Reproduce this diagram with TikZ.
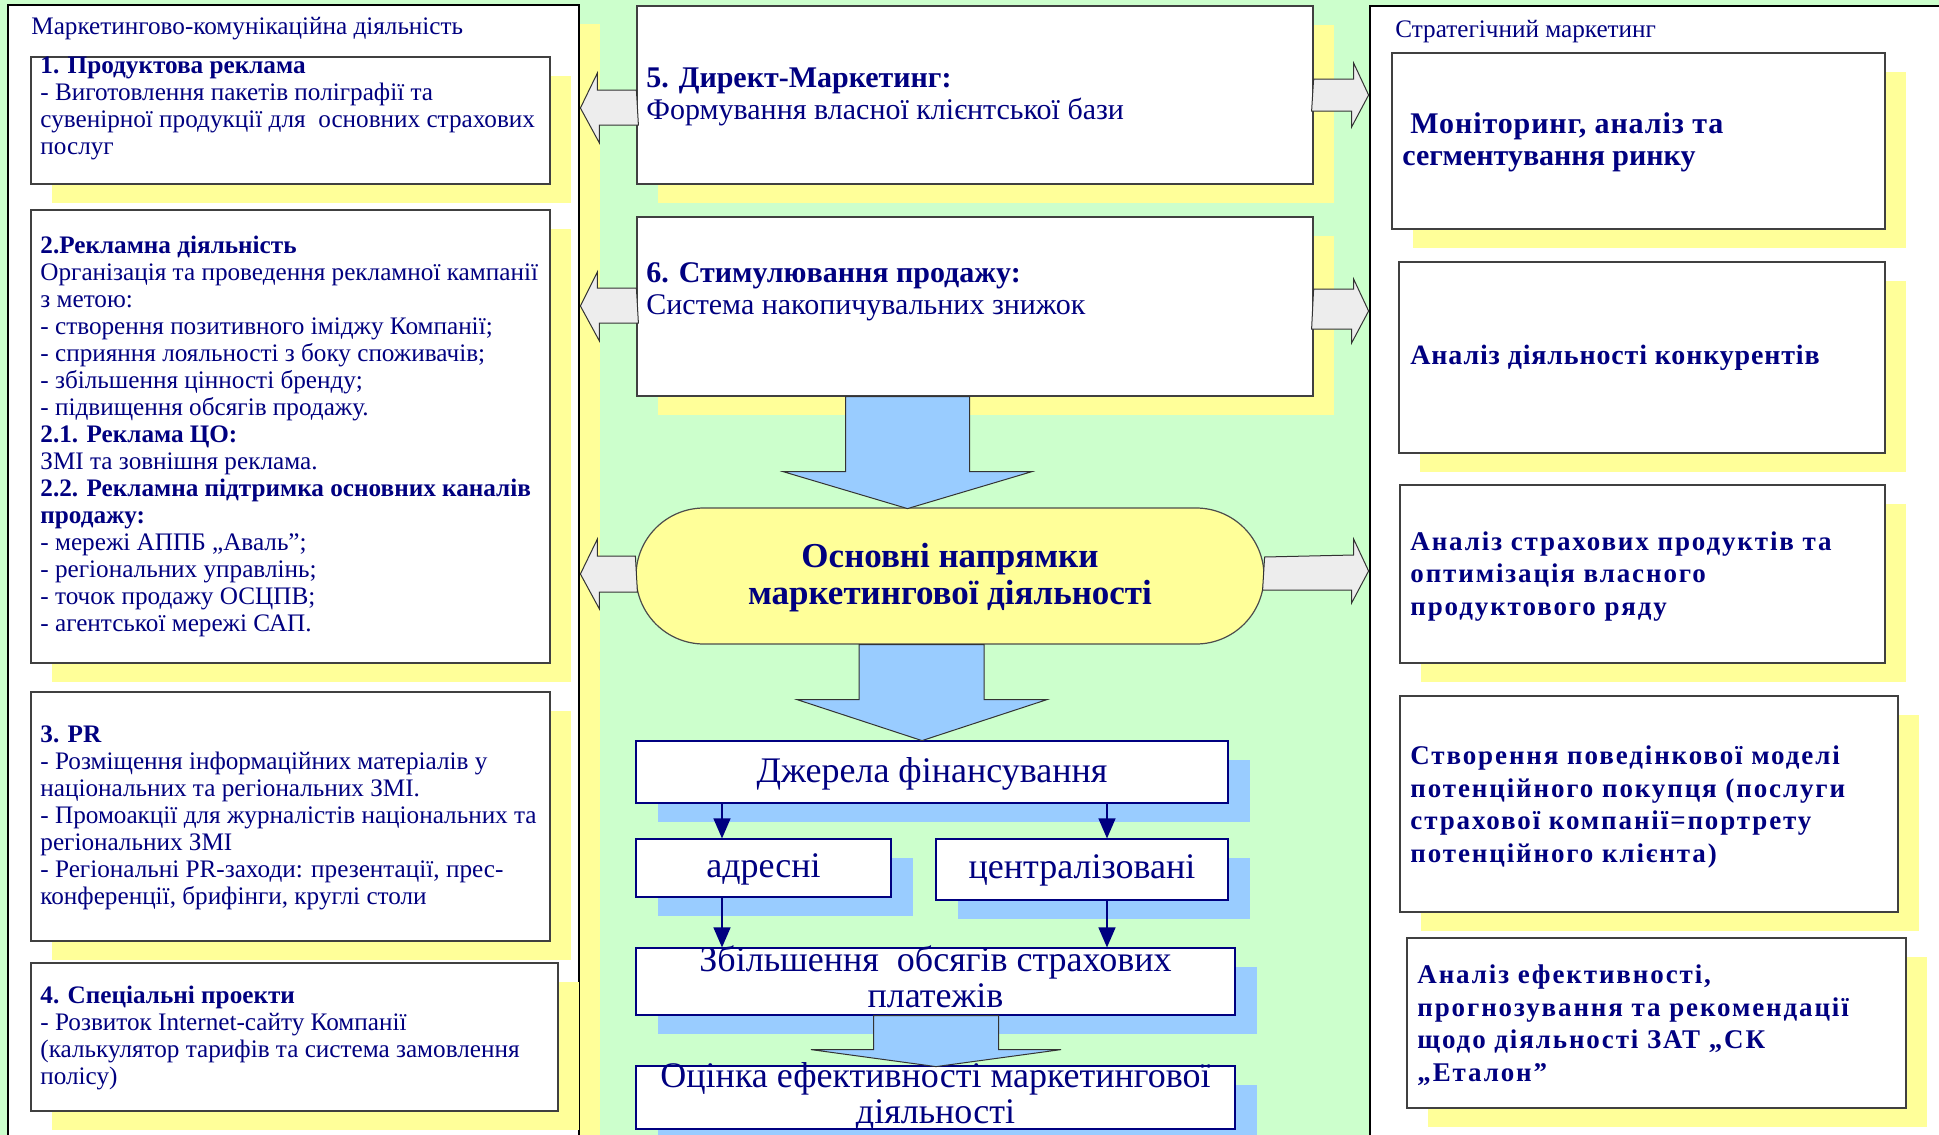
\documentclass[tikz,border=0pt]{standalone}
\usepackage{fontspec}
\setmainfont{Liberation Serif}
\newfontfamily\spacedfont[LetterSpace=7]{Liberation Serif}
\newfontfamily\lightfont[LetterSpace=3]{Liberation Serif}
\usetikzlibrary{calc,fit,shadows,arrows.meta}

\definecolor{bggreen}{HTML}{CCFFCC}
\definecolor{shyellow}{HTML}{FFFF99}
\definecolor{shblue}{HTML}{99CCFF}
\definecolor{navy}{HTML}{000080}
\definecolor{arrgrey}{HTML}{EDEDED}

\tikzset{
  panel/.style={draw=black, line width=1.4pt, fill=white, inner sep=0pt},
  box/.style={draw=black!75, line width=0.6pt, fill=white, inner sep=0pt},
  nbox/.style={draw=navy, line width=0.6pt, fill=white, inner sep=0pt},
  corebox/.style={draw=black!70, line width=0.6pt, fill=shyellow, inner sep=0pt,
    rounded corners=34pt},
  yshadow/.style={drop shadow={shadow xshift=10.5pt, shadow yshift=-9.5pt,
    fill=shyellow, opacity=1}},
  bshadow/.style={drop shadow={shadow xshift=11pt, shadow yshift=-9.5pt,
    fill=shblue, opacity=1}},
  paneltitle/.style={text=navy, inner sep=0pt, font=\fontsize{12.6}{13.5}\selectfont},
  % multi-line nodes are placed by the baseline of their last line
  ltext/.style={text=navy, align=left, inner sep=0pt, anchor=base west,
    font=\fontsize{12.6}{13.5}\selectfont},
  mtext/.style={text=navy, align=left, inner sep=0pt, anchor=base west,
    font=\fontsize{15}{16}\selectfont},
  ctext/.style={text=navy, align=center, inner sep=0pt, anchor=base,
    font=\fontsize{18}{18}\selectfont},
  rtext/.style={text=navy, align=left, inner sep=0pt, anchor=base west,
    font=\spacedfont\bfseries\fontsize{13.5}{16.25}\selectfont},
  greyarr/.style={draw=black!80, line width=0.5pt, fill=arrgrey},
  bluearr/.style={draw=black!80, line width=0.5pt, fill=shblue},
  smallarr/.style={draw=navy, line width=0.7pt, -{Triangle[length=10pt,width=8.5pt]}}
}

\begin{document}
\begin{tikzpicture}[x=0.5pt,y=-0.5pt]
    % Background
    \fill[bggreen] (0,0) rectangle (1939,1135);
    \useasboundingbox (0,0) rectangle (1939,1135);

    % Panels
    \node[panel, yshadow, fit={(8,5) (579,1160)}] (lp) {};
    \node[panel, fit={(1370,6) (1960,1160)}] (rp) {};
    \node[paneltitle, anchor=base west] (lptitle) at (31,34) {Маркетингово-комунікаційна діяльність};
    \node[paneltitle, anchor=base west] (rptitle) at (1395,37) {Стратегічний маркетинг};

    % Left column
    \node[box, yshadow, fit={(31,57) (550,184)}] (b1) {};
    \node[box, yshadow, fit={(31,210) (550,663)}] (b2) {};
    \node[box, yshadow, fit={(31,692) (550,941)}] (b3) {};
    \node[box, yshadow, fit={(31,963) (558,1111)}] (b4) {};

    \node[ltext] (t1) at (40,154) {\textbf{1. Продуктова реклама}\\
      - Виготовлення пакетів поліграфії та\\
      сувенірної продукції для~ основних страхових\\
      послуг};
    \node[ltext] (t2) at (40,631) {\textbf{2.Рекламна діяльність}\\
      Організація та проведення рекламної кампанії\\
      з метою:\\
      - створення позитивного іміджу Компанії;\\
      - сприяння лояльності з боку споживачів;\\
      - збільшення цінності бренду;\\
      - підвищення обсягів продажу.\\
      \textbf{2.1. Реклама ЦО:}\\
      ЗМІ та зовнішня реклама.\\
      \textbf{2.2. Рекламна підтримка основних каналів}\\
      \textbf{продажу:}\\
      - мережі АППБ „Аваль”;\\
      - регіональних управлінь;\\
      - точок продажу ОСЦПВ;\\
      - агентської мережі САП.};
    \node[ltext] (t3) at (40,904) {\textbf{3. PR}\\
      - Розміщення інформаційних матеріалів у\\
      національних та регіональних ЗМІ.\\
      - Промоакції для журналістів національних та\\
      регіональних ЗМІ\\
      - Регіональні PR-заходи: презентації, прес-\\
      конференції, брифінги, круглі столи};
    \node[ltext] (t4) at (40,1084) {\textbf{4. Спеціальні проекти}\\
      - Розвиток Internet-сайту Компанії\\
      (калькулятор тарифів та система замовлення\\
      полісу)};

    % Centre column
    \node[box, yshadow, fit={(637,6) (1313,184)}] (b5) {};
    \node[box, yshadow, fit={(637,217) (1313,396)}] (b6) {};
    \node[mtext] (t5) at (646,119) {\textbf{5. Директ-Маркетинг:}\\Формування власної клієнтської бази};
    \node[mtext] (t6) at (646,314) {\textbf{6. Стимулювання продажу:}\\Система накопичувальних знижок};

    \node[corebox, fit={(636,508) (1264,644)}] (core) {};
    \node[ctext, font=\bfseries\fontsize{17.5}{18.5}\selectfont] (coret) at (950,604)
      {Основні напрямки\\маркетингової діяльності};

    \node[nbox, bshadow, fit={(636,741) (1228,803)}] (dzh) {};
    \node[nbox, bshadow, fit={(636,839) (891,897)}] (adr) {};
    \node[nbox, bshadow, fit={(936,839) (1228,900)}] (centr) {};
    \node[nbox, bshadow, fit={(636,948) (1235,1015)}] (zb) {};
    \node[nbox, bshadow, fit={(636,1066) (1235,1129)}] (oc) {};
    \node[ctext] (dzht) at (932,782) {Джерела фінансування};
    \node[ctext] (adrt) at (763.5,877) {адресні};
    \node[ctext] (centrt) at (1082,878) {централізовані};
    \node[ctext] (zbt) at (935.5,1007) {Збільшення~ обсягів страхових\\платежів};
    \node[ctext] (oct) at (935.5,1123) {Оцінка ефективності маркетингової\\діяльності};

    % Right column
    \node[box, yshadow, fit={(1392,53) (1885,229)}] (ra) {};
    \node[box, yshadow, fit={(1399,262) (1885,453)}] (rb) {};
    \node[box, yshadow, fit={(1400,485) (1885,663)}] (rc) {};
    \node[box, yshadow, fit={(1400,696) (1898,912)}] (rd) {};
    \node[box, yshadow, fit={(1407,938) (1906,1108)}] (re) {};

    \node[rtext, font=\bfseries\fontsize{15}{16}\selectfont] (rat) at (1402,165)
      {\hspace*{4pt}{\addfontfeature{LetterSpace=3}Моніторинг, аналіз та}\\сегментування ринку};
    \node[rtext, font=\lightfont\bfseries\fontsize{14}{16}\selectfont] (rbt) at (1410,364)
      {Аналіз діяльності конкурентів};
    \node[rtext] (rct) at (1410,615) {Аналіз страхових продуктів та\\
      оптимізація власного\\продуктового ряду};
    \node[rtext] (rdt) at (1410,862) {Створення поведінкової моделі\\
      потенційного покупця (послуги\\страхової компанії=портрету\\
      потенційного клієнта)};
    \node[rtext] (ret) at (1417,1081) {Аналіз ефективності,\\
      прогнозування та рекомендації\\щодо діяльності ЗАТ „СК\\„Еталон”};

    % Grey arrows to the left panel
    \draw[greyarr] (b5.west |- 0,90) -- ++(-39,0) -- ++(0,-17) -- (lp.east |- 0,108)
      -- ++(19,35) -- ++(0,-18) -- ++(39,0) -- cycle;
    \draw[greyarr] (b6.west |- 0,288) -- ++(-39,0) -- ++(0,-16) -- (lp.east |- 0,306)
      -- ++(19,35) -- ++(0,-18) -- ++(39,0) -- cycle;
    \draw[greyarr] (core.west |- 0,556) -- ++(-38,0) -- ++(0,-17) -- (lp.east |- 0,574)
      -- ++(19,35) -- ++(0,-17) -- ++(38,0) -- cycle;

    % Grey arrows to the right panel
    \draw[greyarr] (b5.east |- 0,79) -- ++(40,0) -- ++(0,-16) -- (rp.west |- 0,95)
      -- ++(-17,32) -- ++(0,-16) -- ++(-40,0) -- cycle;
    \draw[greyarr] (b6.east |- 0,289) -- ++(40,0) -- ++(0,-10) -- (rp.west |- 0,311)
      -- ++(-17,32) -- ++(0,-14) -- ++(-40,0) -- cycle;
    \draw[greyarr] (core.east |- 0,557) -- ++(89,-2) -- ++(0,-16) -- (rp.west |- 0,571)
      -- ++(-17,32) -- ++(0,-13) -- ++(-89,0) -- cycle;

    % Blue block arrows
    \draw[bluearr] (b6.south -| 845.5,0) -- ++(0,75) -- ++(-62.5,0) -- ++(124.5,37)
      -- ++(124.5,-37) -- ++(-62.5,0) -- ++(0,-75) -- cycle;
    \draw[bluearr] (core.south -| 859,0) -- ++(0,55) -- ++(-62,0) -- ++(125,41)
      -- ++(125,-41) -- ++(-63,0) -- ++(0,-55) -- cycle;
    \draw[bluearr] (zb.south -| 873.5,0) -- ++(0,34) -- ++(-62.5,0) -- ++(125,17)
      -- ++(125,-17) -- ++(-62.5,0) -- ++(0,-34) -- cycle;

    % Funding arrows
    \coordinate (ca) at (722,0);
    \coordinate (cb) at (1107,0);
    \draw[smallarr] (dzh.south -| ca) -- (adr.north -| ca);
    \draw[smallarr] (dzh.south -| cb) -- (centr.north -| cb);
    \draw[smallarr] (adr.south -| ca) -- (zb.north -| ca);
    \draw[smallarr] (centr.south -| cb) -- (zb.north -| cb);
\end{tikzpicture}
\end{document}
